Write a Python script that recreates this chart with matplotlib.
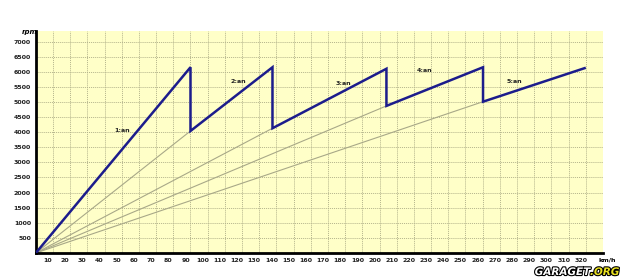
import matplotlib
matplotlib.use("Agg")
import matplotlib.pyplot as plt
import matplotlib.transforms as mtransforms
import matplotlib.patheffects as pe

# Data: speed (km/h) and rpm for each gear segment
gear_names = ["1:an", "2:an", "3:an", "4:an", "5:an"]
gear_start_kmh = [0, 90, 137.7, 204, 260.2]
gear_start_rpm = [0, 4040, 4130, 4870, 5010]
gear_end_kmh = [90, 137.7, 204, 260.2, 319.3]
gear_end_rpm = [6150, 6150, 6100, 6150, 6120]
label_kmh = [50, 117.6, 178.7, 226, 278.5]
label_rpm = [4040, 5670, 5600, 6050, 5690]

x_ticks = list(range(10, 330, 10))
y_ticks = list(range(500, 7500, 500))

fig = plt.figure(figsize=(6.4, 2.77), dpi=100)
fig.patch.set_facecolor("white")
ax = fig.add_axes([35.8 / 640, (277 - 253) / 277, (603 - 35.8) / 640, (253 - 31) / 277])
ax.set_facecolor("#ffffc8")
ax.set_xlim(0, 330)
ax.set_ylim(0, 7350)

# grid
for xv in x_ticks:
    ax.axvline(xv, color="#b4b48c", lw=0.7, ls=(0, (1, 1)), zorder=1)
for yv in y_ticks:
    ax.axhline(yv, color="#b4b48c", lw=0.7, ls=(0, (1, 1)), zorder=1)

# thin gray ratio lines from origin
for i in range(1, len(gear_names)):
    ax.plot([0, gear_start_kmh[i]], [0, gear_start_rpm[i]], color="#a8a888", lw=0.8, zorder=2)

# saw-tooth blue curve
xs, ys = [], []
for i in range(len(gear_names)):
    xs += [gear_start_kmh[i], gear_end_kmh[i]]
    ys += [gear_start_rpm[i], gear_end_rpm[i]]
ax.plot(xs, ys, color="#1c1c8c", lw=1.8, zorder=3, solid_joinstyle="miter")

for name, lx, ly in zip(gear_names, label_kmh, label_rpm):
    ax.text(lx, ly, name, fontsize=4.5, fontweight="bold", ha="center", va="center", color="#202020", zorder=4)

for s in ["top", "right"]:
    ax.spines[s].set_visible(False)
for s in ["left", "bottom"]:
    ax.spines[s].set_linewidth(2)
    ax.spines[s].set_color("black")

ax.set_xticks(x_ticks)
ax.set_xticklabels([str(v) for v in x_ticks])
ax.set_yticks(y_ticks)
ax.set_yticklabels([str(v) for v in y_ticks])
ax.tick_params(axis="both", length=0, labelsize=4.5, pad=3.5)
for lbl in ax.get_xticklabels() + ax.get_yticklabels():
    lbl.set_fontweight("bold")
    lbl.set_color("#202020")
offset = mtransforms.ScaledTranslation(-5 / 100, 0, fig.dpi_scale_trans)
for lbl in ax.get_xticklabels():
    lbl.set_transform(lbl.get_transform() + offset)

fig.text(30 / 640, 1 - 32 / 277, "rpm", fontsize=5, fontweight="bold", style="italic", ha="center", va="center")
fig.text(607 / 640, 1 - 260 / 277, "km/h", fontsize=4.5, fontweight="bold", ha="center", va="center")

t = fig.text(590 / 640, 0, "GARAGET", fontsize=7.5, fontweight="bold", style="italic",
             ha="right", va="bottom", color="white", zorder=10)
t.set_path_effects([pe.withStroke(linewidth=1.6, foreground="black")])
t2 = fig.text(590 / 640, 0, ".ORG", fontsize=7.5, fontweight="bold", style="italic",
              ha="left", va="bottom", color="#e8e020", zorder=10)
t2.set_path_effects([pe.withStroke(linewidth=1.6, foreground="black")])

fig.savefig("out.png", dpi=100)
